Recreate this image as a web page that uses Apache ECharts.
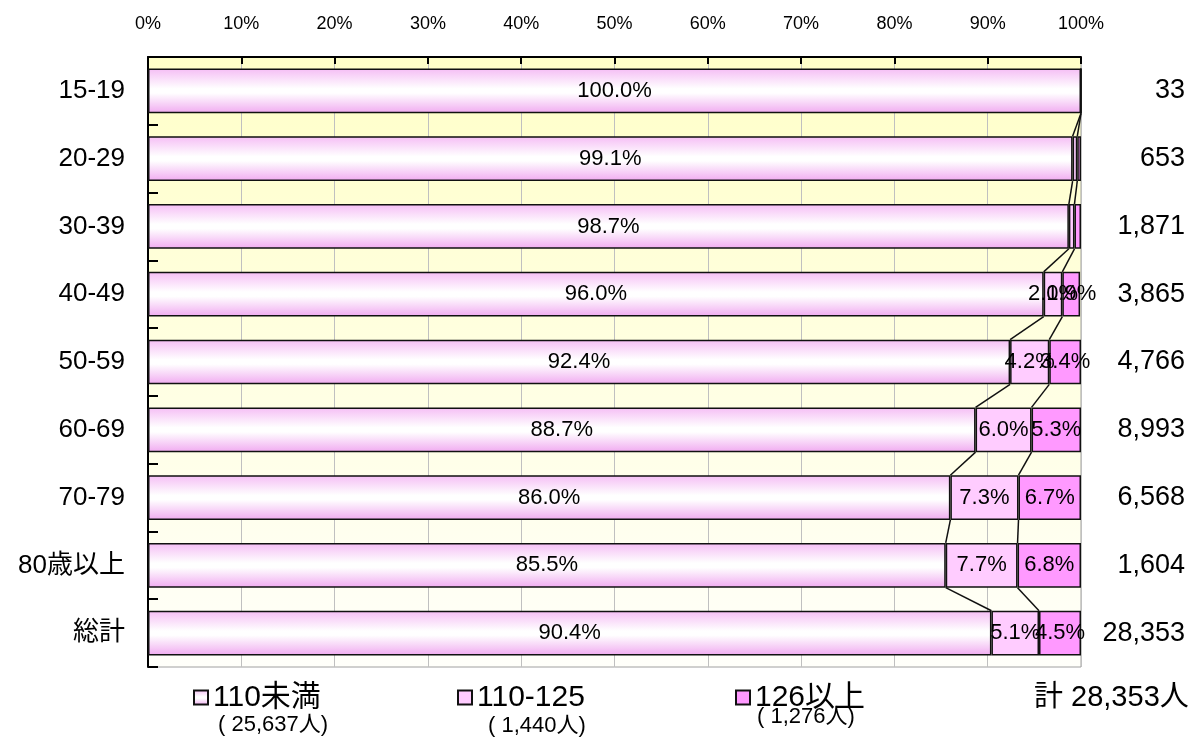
<!DOCTYPE html>
<html>
<head>
<meta charset="utf-8">
<script src="https://cdn.jsdelivr.net/npm/echarts@6/dist/echarts.min.js"></script>
<style>
html,body{margin:0;padding:0;background:#fff;}
#chart{width:1198px;height:742px;}
</style>
</head>
<body>
<div id="chart"></div>
<script>
// ---- data ----
const categories = ['15-19', '20-29', '30-39', '40-49', '50-59', '60-69', '70-79', '80歳以上', '総計'];
const seriesNames = ['110未満', '110-125', '126以上'];
const under110 = [100.0, 99.1, 98.7, 96.0, 92.4, 88.7, 86.0, 85.5, 90.4];
const from110to125 = [0.0, 0.5, 0.6, 2.0, 4.2, 6.0, 7.3, 7.7, 5.1];
const over126 = [0.0, 0.4, 0.7, 1.9, 3.4, 5.3, 6.7, 6.8, 4.5];
const totals = ['33', '653', '1,871', '3,865', '4,766', '8,993', '6,568', '1,604', '28,353'];
const legendCounts = [25637, 1440, 1276];
const grandTotal = 28353;
const xTicks = [0, 10, 20, 30, 40, 50, 60, 70, 80, 90, 100];

// ---- style ----
const REG = "'Liberation Sans', Arial, 'Noto Sans CJK JP', sans-serif";
const GAP = 0.34;

const chart = echarts.init(document.getElementById('chart'));

const grad1 = new echarts.graphic.LinearGradient(0, 0, 0, 1, [
  {offset: 0, color: '#f5bdf5'},
  {offset: 0.45, color: '#ffffff'},
  {offset: 0.55, color: '#ffffff'},
  {offset: 1, color: '#f0aaf0'}
]);
const colors = [grad1, '#ffccff', '#ff99ff'];
const valueSets = [under110, from110to125, over126];

const labelCfg = {
  show: true,
  position: 'inside',
  color: '#000',
  fontFamily: REG,
  fontSize: 22,
  formatter: p => (p.value >= 1 ? p.value.toFixed(1) + '%' : '')
};

const barSeries = valueSets.map((vals, k) => ({
  name: seriesNames[k],
  type: 'bar',
  stack: 'total',
  barCategoryGap: (GAP * 100) + '%',
  data: vals,
  itemStyle: {color: colors[k], borderColor: '#111', borderWidth: 1.5},
  label: labelCfg,
  emphasis: {disabled: true},
  z: 3
}));

// series lines connecting segment boundaries of adjacent bars
const lineData = [];
for (let i = 0; i < categories.length - 1; i++) {
  const a1 = under110[i], a2 = under110[i] + from110to125[i];
  const b1 = under110[i + 1], b2 = under110[i + 1] + from110to125[i + 1];
  lineData.push([i, a1, a2, b1, b2]);
}
const seriesLines = {
  type: 'custom',
  silent: true,
  z: 4,
  encode: {x: [1, 2, 3, 4], y: 0},
  data: lineData,
  renderItem: function (params, api) {
    const i = api.value(0);
    const band = api.size([0, 1])[1];
    const half = band * (1 - GAP) / 2;
    const children = [];
    [[1, 3], [2, 4]].forEach(([da, db]) => {
      const p = api.coord([api.value(da), i]);
      const q = api.coord([api.value(db), i + 1]);
      children.push({
        type: 'line',
        shape: {x1: p[0], y1: p[1] + half, x2: q[0], y2: q[1] - half},
        style: {stroke: '#111', lineWidth: 1.5}
      });
    });
    return {type: 'group', children: children};
  }
};

const legendLefts = [193, 457, 735];
const legends = seriesNames.map((n, k) => ({
  data: [n],
  left: legendLefts[k],
  top: 682,
  padding: 0,
  itemWidth: 14,
  itemHeight: 14,
  itemGap: 3,
  icon: 'rect',
  selectedMode: false,
  textStyle: {fontFamily: REG, fontSize: 30, color: '#000', lineHeight: 31}
}));

const subPos = [[218, 726], [488, 727], [757, 718]];
const graphics = legendCounts.map((c, k) => ({
  type: 'text',
  left: subPos[k][0],
  top: subPos[k][1] - 12,
  style: {
    text: '( ' + c.toLocaleString('en-US') + '人)',
    fontFamily: REG, fontSize: 22, fill: '#000'
  }
}));
graphics.push({
  type: 'text',
  left: 1034,
  top: 683,
  style: {
    text: '計 ' + grandTotal.toLocaleString('en-US') + '人',
    fontFamily: REG, fontSize: 29, fill: '#000'
  }
});

chart.setOption({
  animation: false,
  backgroundColor: '#fff',
  grid: {
    left: 148, right: 117, top: 57, bottom: 75,
    show: true,
    borderColor: '#a0a0a0',
    borderWidth: 1,
    backgroundColor: new echarts.graphic.LinearGradient(0, 0, 0, 1, [
      {offset: 0, color: '#ffffc8'},
      {offset: 1, color: '#fffffa'}
    ])
  },
  xAxis: {
    type: 'value',
    position: 'top',
    min: 0, max: 100, interval: 10,
    axisLine: {show: true, lineStyle: {color: '#000', width: 2}},
    axisTick: {show: true, inside: true, length: 7, lineStyle: {color: '#000', width: 2}},
    splitLine: {show: true, lineStyle: {color: '#c0c0c0', width: 1}},
    axisLabel: {
      margin: 24,
      fontFamily: REG, fontSize: 18, color: '#000',
      formatter: v => (xTicks.indexOf(v) >= 0 ? v + '%' : '')
    }
  },
  yAxis: [{
    type: 'category',
    inverse: true,
    data: categories,
    axisLine: {show: true, lineStyle: {color: '#000', width: 2}},
    axisTick: {show: true, inside: true, length: 10, lineStyle: {color: '#000', width: 2}},
    splitLine: {show: false},
    axisLabel: {margin: 23, fontFamily: REG, fontSize: 26, color: '#000'}
  }, {
    type: 'category',
    inverse: true,
    position: 'right',
    data: totals,
    axisLine: {show: false},
    axisTick: {show: false},
    splitLine: {show: false},
    axisLabel: {margin: 104, align: 'right', fontFamily: REG, fontSize: 27, color: '#000'}
  }],
  legend: legends,
  graphic: graphics,
  series: barSeries.concat([seriesLines])
});
</script>
</body>
</html>
